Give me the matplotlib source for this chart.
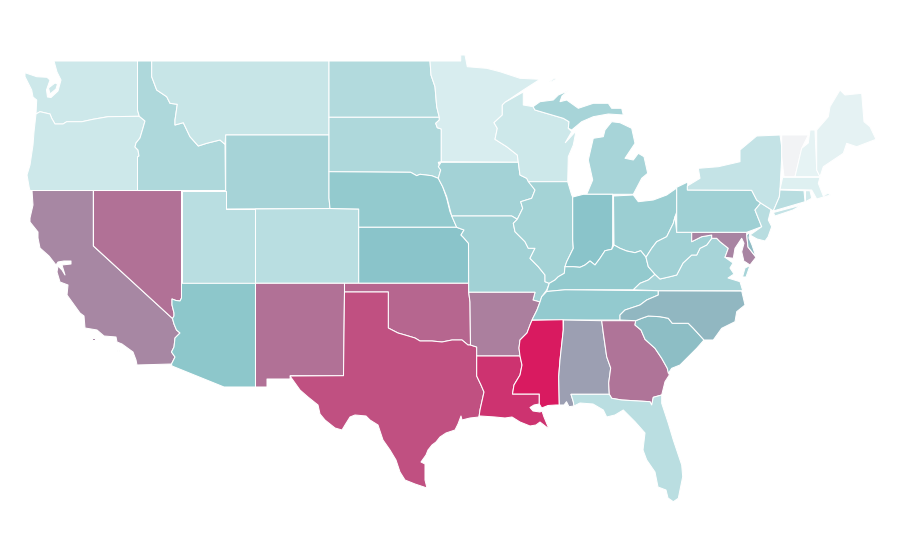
import matplotlib
matplotlib.use("Agg")
import matplotlib.pyplot as plt
from matplotlib.collections import PolyCollection
from matplotlib.colors import LinearSegmentedColormap, Normalize

# Estimated value of every state, read from its fill colour
state_values = {
    "WA": .18, "OR": .18, "CA": .68, "NV": .745, "ID": .33, "MT": .21, "WY": .37, "UT": .275,
    "AZ": .485, "CO": .275, "NM": .745, "ND": .31, "SD": .33, "NE": .46, "KS": .50, "OK": .775,
    "TX": .84, "MN": .125, "IA": .38, "MO": .39, "AR": .705, "LA": .925, "WI": .18, "IL": .375,
    "MI": .36, "IN": .50, "OH": .42, "KY": .46, "TN": .455, "MS": 1.0, "AL": .61, "GA": .735,
    "FL": .27, "SC": .52, "NC": .54, "VA": .36, "WV": .39, "MD": .69, "DE": .53, "PA": .40,
    "NJ": .28, "NY": .226, "CT": .28, "RI": .16, "MA": .10, "VT": 0.0, "NH": .06, "ME": .067,
}
color_stops = [(0.0, "#f2f3f5"), (0.06, "#e6f3f4"), (0.18, "#cde8ea"), (0.5, "#8ac5ca"), (1.0, "#d91a60")]

# State outlines as geographic shape data, traced in the picture's coordinate frame
state_outlines = {
    "WA": [[(54,61),(137.5,61),(137.5,110),(139.3,116.3),(108,116.7),(93,119.3),(82,121.7),(66.7,121.7),(63,124),(55,124),(51.7,118.3),(50,114),(40,111.7),(36,114),(36.7,100),(33,97),(31.7,90),(25,76.7),(25,72.7),(36.7,76.7),(47,77.3),(50,80),(46.5,90),(47.5,97),(51,97.5),(58,91),(61,80),(57,72)],
           [(48.5,88),(55,83),(57.5,84),(56,89),(50,94)]],
    "OR": [[(36,114),(40,111.7),(50,114),(51.7,118.3),(55,124),(63,124),(66.7,121.7),(82,121.7),(93,119.3),(108,116.7),(139.3,116.3),(145,121),(143,128),(140,138),(136,143),(135,147),(138,150),(139,156),(137.5,157),(137.5,190.5),(30,190.5),(29.3,188),(27,175),(30,165),(33,145),(34,132)]],
    "CA": [[(32,190.5),(93.3,190.5),(93.3,246),(172.5,318.5),(174,324),(176.5,330),(180,333),(175,338),(174,347),(171.5,352),(175,357),(171.5,364),(137,365),(136,360),(133,352),(122,344),(117,342),(116,337),(104,336),(97,330),(85,328),(84,316),(80,313),(67,295),(68,285),(60,282),(57,272),(58,266),(62,270),(65,275),(62,265),(71,264),(71,261),(64,261),(58,262),(56,265),(49,256),(40,248),(38,238),(38,232),(30,222),(30,218),(33,205)],
           [(92,338),(94.5,338),(94.5,340),(92,340)],[(117,349.5),(118.5,349.5),(118.5,351),(117,351)]],
    "NV": [[(93.5,190.5),(181.5,190.5),(181.5,298),(180,301),(176,300.5),(172,299),(172,305),(174,313),(174,316),(172.5,318.5),(93.5,246)]],
    "ID": [[(137.5,61),(151.7,61),(151.7,76.7),(156.7,90),(166.7,96.7),(170,103.3),(177.3,104.3),(175,120),(175,125),(183.3,122.7),(190,136.7),(198.3,146),(206.7,143.3),(220,140),(225,144.3),(225.5,190.5),(137.5,190.5),(137.5,157),(139,156),(138,150),(135,147),(136,143),(140,138),(143,128),(145,121),(139.3,116.3),(137.5,110)]],
    "MT": [[(151.7,61),(329,61),(329,135),(225.7,135),(225,144.3),(220,140),(206.7,143.3),(198.3,146),(190,136.7),(183.3,122.7),(175,125),(175,120),(177.3,104.3),(170,103.3),(166.7,96.7),(156.7,90),(151.7,76.7)]],
    "WY": [[(225.7,135),(329,135),(329,198),(330,208.5),(225.7,209)]],
    "UT": [[(181.5,190.5),(225.7,190.5),(225.7,209),(255.5,209),(255.5,283.3),(181.5,283.3)]],
    "AZ": [[(181.5,283.3),(255.5,283.3),(255.5,387),(224,387),(172,366),(171.5,364),(175,357),(171.5,352),(174,347),(175,338),(180,333),(176.5,330),(174,324),(172.5,318.5),(174,316),(174,313),(172,305),(172,299),(176,300.5),(180,301),(181.5,298)]],
    "CO": [[(255.5,209),(330,208.5),(358.7,209),(358.7,283.3),(255.5,283.3)]],
    "NM": [[(255.5,283.3),(344.5,283.3),(344.5,292),(343.5,375.7),(290.3,375.7),(290,379),(267,379),(267,387),(255.5,387)]],
    "ND": [[(329,61),(430,61),(431,75),(435,86.7),(436.7,106.7),(439.3,117.3),(329,117.3)]],
    "SD": [[(329,117.3),(439.3,117.3),(439.3,120),(435.7,123.3),(437.3,127.7),(441.3,129),(441.3,161.7),(438.3,162.3),(440.7,170),(438.3,178.3),(431.7,175.7),(420,174.3),(416.7,175.7),(410.7,172.3),(329,171.7)]],
    "NE": [[(329,171.7),(410.7,172.3),(416.7,175.7),(420,174.3),(431.7,175.7),(438.3,178.3),(442.7,186.7),(446.7,198.3),(450,211.7),(456.7,227.3),(358.7,227.3),(358.7,209),(330,208.5),(329,198)]],
    "KS": [[(358.7,227.3),(456.7,227.3),(464,230),(461,235),(463.3,237.3),(468.5,243.3),(468.5,283.3),(358.7,283.3)]],
    "OK": [[(344.5,283.3),(468.5,283.3),(468.7,292.3),(470,302),(470.5,345),(468,345),(462,340),(452,340),(442,342),(432,341),(420,341),(415,338),(405,335),(398,333),(388.3,328),(388.3,292),(344.5,292)]],
    "TX": [[(344.5,292),(388.3,292),(388.3,328),(398,333),(405,335),(415,338),(420,341),(432,341),(442,342),(452,340),(462,340),(468,345),(470.5,345),(476.7,347),(476.7,376),(481,385),(484,392),(480,410),(479,417),(470,418),(462,420),(461,416),(458,424),(455,430),(446,433),(440,437),(436,442),(432,445),(428,450),(426,455),(421,462),(425,464),(425,480),(427,488),(415,484),(405,480),(400,472),(396,460),(390,450),(383,440),(378,425),(370,420),(366,416),(355,415),(350,417),(345,425),(342,430),(335,428),(325,420),(320,414),(318,405),(308,397),(300,390),(290,376),(343.5,375.7)]],
    "MN": [[(430,61),(460.7,61),(460.7,55),(465,55),(467.3,66.7),(486.7,68.3),(500,71.7),(510,75),(520,78.3),(540,79.3),(523.3,90),(505,102.3),(502.3,105),(502.3,115),(494,122.7),(497.3,128.3),(495,139.3),(506.7,146.7),(517.3,155),(518.3,162.3),(441.3,161.7),(441.3,129),(437.3,127.7),(435.7,123.3),(439.3,120),(439.3,117.3),(436.7,106.7),(435,86.7),(431,75)]],
    "IA": [[(441,162.3),(518.3,162.3),(520,175),(526.7,178.3),(535,190),(531.7,198.3),(520.7,201.7),(522.7,208.3),(517.3,219.3),(511.7,216),(451.7,216),(446.7,196.7),(442.7,186.7),(438.3,178.3),(440.7,170),(438.3,166.7)]],
    "MO": [[(451.7,216),(511.7,216),(517.3,219.3),(513.3,223.3),(515,231.7),(525,241.7),(528.3,248.3),(535,248.3),(530,258.3),(538.3,266.7),(545,275),(545,281.7),(549.3,283.3),(546.7,290),(541.7,296.7),(540,302),(533,300),(535,292.3),(468.7,292.3),(468.5,243.3),(463.3,237.3),(461,235),(464,230),(456.7,227.3)]],
    "AR": [[(468.7,292.3),(535,292.3),(533,300),(540,302),(537,310),(533,318),(530,325),(527,333),(520,340),(519,348),(520,356),(476.7,356),(476.7,347),(470.5,345),(470,302)]],
    "LA": [[(476.7,356),(520,356),(522,365),(520,375),(514,385),(512.5,394),(539.3,394),(539.3,404),(534,405),(530,407.5),(533,411),(540,412),(542,411),(544,417),(549,429),(540,422),(536,425),(530,426),(520,422),(512,417),(505,418),(495,417),(480,416),(479,417),(480,410),(484,392),(481,385),(476.7,376)]],
    "WI": [[(505,102.3),(523.3,92),(523.3,105),(533.3,106.7),(535,110),(563.3,118.3),(569,121.7),(568.3,128.3),(571.7,131.7),(565.3,142.7),(576,131),(573.3,145),(568.3,156.7),(567.7,181.7),(528.3,181.7),(526.7,178.3),(520,175),(518.3,162.3),(517.3,155),(506.7,146.7),(495,139.3),(497.3,128.3),(494,122.7),(502.3,115),(502.3,105)]],
    "IL": [[(528.3,181.7),(567.7,181.7),(571.7,195),(572.7,197),(572.7,240),(573.3,248.3),(566.7,261.7),(565,266.7),(564.3,273.3),(558.3,276.7),(555,280),(549.3,283.3),(545,281.7),(545,275),(538.3,266.7),(530,258.3),(535,248.3),(528.3,248.3),(525,241.7),(515,231.7),(513.3,223.3),(517.3,219.3),(522.7,208.3),(520.7,201.7),(531.7,198.3),(535,190)]],
    "MI": [[(586.7,194.3),(592.7,180),(588.3,160),(593.3,138.3),(603.3,136.7),(605,130),(611.7,121.7),(620,122.7),(631.7,128.3),(635,143.3),(625,158.3),(633.3,160),(638.3,153.3),(644,156.7),(647.7,173.3),(641.7,178.3),(633.3,194.3)],
           [(533,106.7),(540,101.7),(553.3,100),(558.3,95),(568.3,90.7),(562,96),(560,101.7),(566.7,100),(578.3,108.3),(593.3,103.3),(608.3,103.3),(611.7,108.3),(621.7,108.3),(623.3,115),(608.3,114),(593.3,116.7),(581.7,121.7),(571.7,130),(568.3,128.3),(569,121.7),(563.3,118.3),(535,110)],
           [(549,82),(555,78),(556,79),(551,82)]],
    "IN": [[(572.7,197),(583.3,194.3),(612.7,194.3),(612.7,245),(611.7,249.3),(605,250.7),(600,258.3),(595,265),(590,261),(585,265),(580,267.3),(573.3,266.7),(565,266.7),(566.7,261.7),(573.3,248.3),(572.7,240)]],
    "OH": [[(613.5,196),(633.3,195),(638.3,201.7),(653.3,200),(666.7,195),(676.7,188),(676.7,212),(675,216.7),(673.3,223.3),(666.7,236.7),(656.7,241.7),(651.7,248.3),(646,257.3),(640.7,250.7),(635,252.7),(626.7,251),(620,248.3),(614,245)]],
    "KY": [[(546.7,291.5),(549.3,283.3),(555,280),(558.3,276.7),(564.3,273.3),(565,266.7),(573.3,266.7),(580,267.3),(585,265),(590,261),(595,265),(600,258.3),(605,250.7),(611.7,249.3),(614,245),(620,248.3),(626.7,251),(635,252.7),(640.7,250.7),(646,257.3),(648.3,266.7),(655,274.3),(648.3,280),(640,283.3),(633.3,289.8),(565,289.8)]],
    "TN": [[(546.7,291.5),(565,289.8),(658.3,290.7),(658.3,295),(646.7,300),(640,305),(625,310),(620,315),(620,320),(532,320),(533,318),(537,310),(540,302),(541.7,296.7)]],
    "MS": [[(532,320.3),(563,319.7),(563.3,330),(560,360),(558.7,376.7),(559.3,405),(556,405),(548,405.5),(541.7,408),(539.3,404),(539.3,394),(512.5,394),(514,385),(520,375),(522,365),(520,356),(519,348),(520,340),(527,333),(530,325)]],
    "AL": [[(563.5,320),(601.7,320.7),(603.3,333),(606.7,356.7),(610.7,368),(608.7,383),(609.3,394.3),(571,394.3),(573.3,401.7),(574,406),(569,406.7),(566.5,401.7),(564,405),(559.3,405),(558.7,376.7),(560,360),(563.3,330)]],
    "GA": [[(601.7,320.7),(635.7,320.7),(635,325),(641,330),(645,339.3),(655,348.3),(661.7,358.3),(667.3,368.3),(669.3,375),(665,381.7),(661.7,395),(653.3,397.3),(651.7,405),(650,401.7),(621.7,400),(611.7,398.3),(609.3,394.3),(608.7,383),(610.7,368),(606.7,356.7),(603.3,333)]],
    "FL": [[(571,394.3),(609.3,394.3),(611.7,398.3),(621.7,400),(650,401.7),(651.7,405),(653.3,397.3),(661.7,395),(661.7,403.3),(668.3,423.3),(673.3,440),(681.7,465),(682.7,476.7),(678.3,498.3),(673.3,501.7),(668,498),(666,490),(658,487),(655,472),(646.7,460),(643,450),(645,433),(635,421.7),(623.3,410),(615,415),(606.7,417),(603.3,410),(593,404),(580,403),(574,406),(573.3,401.7)]],
    "SC": [[(635.7,320.7),(641.7,318.3),(648.3,316),(660,316.7),(668.3,318.3),(672.3,323.3),(688.3,323.3),(693.3,328.3),(704,340),(696.7,348.3),(686.7,358.3),(680,365),(671.7,368.3),(668.3,373.3),(667.3,368.3),(661.7,358.3),(655,348.3),(645,339.3),(641,330),(635,325)]],
    "NC": [[(658.3,290.7),(741.7,291),(745,305),(736.7,311.7),(735,321.7),(721.7,328.3),(713.3,340),(704,340),(693.3,328.3),(688.3,323.3),(672.3,323.3),(668.3,318.3),(660,316.7),(648.3,316),(641.7,318.3),(635.7,320.7),(620,320),(620,315),(625,310),(640,305),(646.7,300),(658.3,295)]],
    "VA": [[(633.3,289.8),(640,283.3),(648.3,280),(655,274.3),(660,279),(670,276.7),(676.7,275),(683,263),(691.7,255),(696.7,255),(700,248.3),(706.7,245),(711.7,238.3),(716.7,238.3),(720,241.7),(728.3,248.3),(725,257.3),(733,263),(730,268),(734,274),(728,278),(740,281.7),(742.7,290.7),(658.3,290.7)],
           [(750,265.5),(746,277),(742.5,277),(745,268)]],
    "WV": [[(655,274.3),(648.3,266.7),(646,257.3),(651.7,248.3),(656.7,241.7),(666.7,236.7),(673.3,223.3),(675,216.7),(676.7,232.3),(691.7,232.3),(691.7,241.7),(701.7,236.7),(711.7,235),(711.7,238.3),(706.7,245),(700,248.3),(696.7,255),(691.7,255),(683,263),(676.7,275),(670,276.7),(660,279)]],
    "MD": [[(691.7,232.3),(746.7,232.3),(746.7,235),(748,247),(756,257.3),(750,265),(745,261.7),(744,261.7),(741.7,251.7),(744,243.3),(741.7,238.3),(735,248.3),(733.3,258.3),(725,257.3),(728.3,248.3),(720,241.7),(716.7,238.3),(711.7,238.3),(711.7,235),(701.7,236.7),(691.7,241.7)]],
    "DE": [[(746.7,235),(750,232),(749,238),(752,245),(756,257),(748,247)]],
    "PA": [[(676.7,187.3),(687.7,182),(687.7,190),(751.7,190.3),(756.7,200),(760.7,203),(755,210),(758.3,218.3),(761.7,226.7),(746.7,232.3),(676.7,232.3)]],
    "NJ": [[(760.7,203),(771,209.5),(768.3,220),(771.7,226.7),(768,237),(765,241),(757,239),(750,235),(761.7,226.7),(758.3,218.3),(755,210)]],
    "NY": [[(687.3,190),(687.3,186),(700,178.3),(698.3,168.3),(718.3,166.7),(740,161.7),(740,150),(756.7,136),(780,135),(781.7,146.7),(781.7,156.7),(780,189.3),(779.3,197),(773.3,211),(760.7,203),(756.7,200),(751.7,190.3)],
           [(773.3,212.5),(801.7,205),(793,210),(775,216)]],
    "CT": [[(780,190),(804,190.7),(805,201.7),(773.3,211),(779.3,197)]],
    "RI": [[(805.5,190.7),(810,190.7),(811.7,198.3),(805.5,201.7)]],
    "MA": [[(782.7,177.3),(820,177.3),(818.3,183.3),(823.3,196),(828,193),(830.5,195),(816.7,199),(811.7,190),(780,189.3)]],
    "VT": [[(781.7,135),(808.3,135),(801.7,148.3),(795,176.7),(784,176.7),(781.7,156.7)]],
    "NH": [[(810,130),(815,130),(816.7,170),(820,176.7),(795,176.7),(801.7,148.3),(808.3,143)]],
    "ME": [[(816.7,130),(828.3,116.7),(830,106.7),(840,90),(845,95),(861.7,93.3),(864,121.7),(870,126.7),(876,139.3),(856.7,146.7),(846.7,143.3),(843.3,153.3),(823.3,166.7),(820,176.7),(816.7,170)]],
}

cmap = LinearSegmentedColormap.from_list("rate", color_stops)

rings, ring_values = [], []
for state, value in state_values.items():
    for ring in state_outlines[state]:
        rings.append(ring)
        ring_values.append(value)

fig = plt.figure(figsize=(9, 5.6), dpi=100)
ax = fig.add_axes([0, 0, 1, 1])
coll = PolyCollection(rings, array=ring_values, cmap=cmap, norm=Normalize(0, 1),
                      edgecolors="white", linewidths=0.75, antialiaseds=True)
ax.add_collection(coll)
ax.set_xlim(0, 900)
ax.set_ylim(560, 0)
ax.axis("off")
fig.savefig("out.png", dpi=100, facecolor="white")
